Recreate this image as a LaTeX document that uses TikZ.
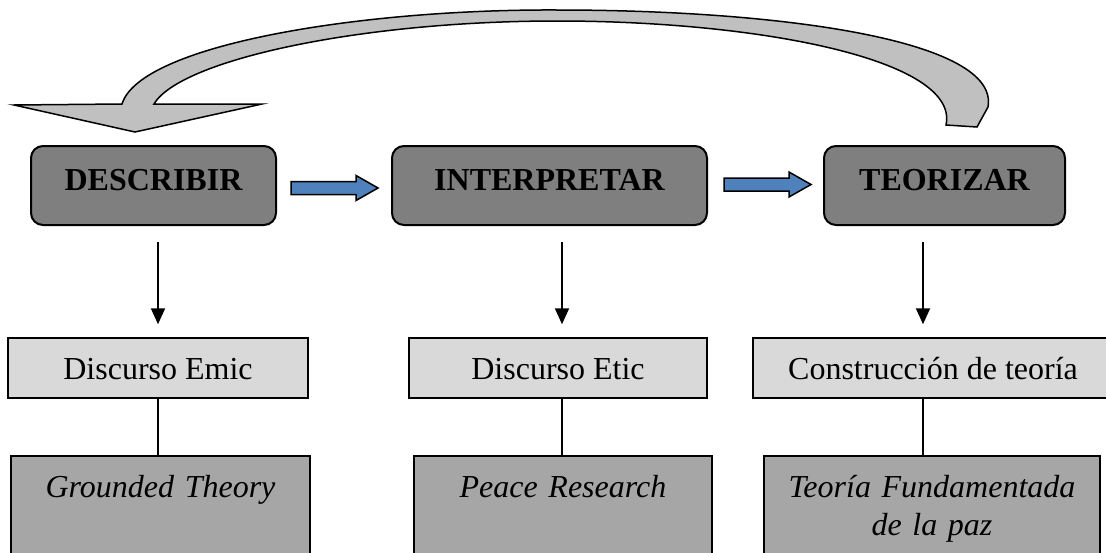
\documentclass[tikz,border=0pt]{standalone}
\usepackage{fontspec}
\setmainfont{Liberation Serif}
\usetikzlibrary{arrows.meta}

\definecolor{phasegray}{HTML}{7F7F7F}
\definecolor{discgray}{HTML}{D9D9D9}
\definecolor{theogray}{HTML}{A6A6A6}
\definecolor{flowblue}{HTML}{4F81BD}
\definecolor{loopgray}{HTML}{C0C0C0}

\begin{document}
\begin{tikzpicture}[x=1pt,y=-1pt,
    phase/.style={draw,line width=2pt,rounded corners=12pt,fill=phasegray,
      minimum height=79pt,text height=22pt,text depth=12pt,
      font=\fontsize{32}{38}\selectfont\bfseries},
    discourse/.style={draw,line width=1.5pt,fill=discgray,minimum height=60pt,
      text height=22pt,text depth=0pt,font=\fontsize{32}{38}\selectfont},
    theory/.style={draw,line width=1.5pt,fill=theogray,anchor=north,inner sep=0pt,
      align=center,text height=42pt,text depth=65pt,
      font=\fontsize{32}{38}\selectfont\itshape},
    downarrow/.style={line width=2pt,-{Triangle[length=16pt,width=14pt]},
      shorten <=16pt,shorten >=13pt},
    stem/.style={line width=1.5pt},
    flowarrow/.style={draw,line width=1.5pt,fill=flowblue},
    looparrow/.style={draw,line width=1.5pt,fill=loopgray}]
  \useasboundingbox (0,0) rectangle (1106,552);

  % phases
  \node[phase,minimum width=245pt] (describir) at (153.5,185.5) {DESCRIBIR};
  \node[phase,minimum width=315pt] (interpretar) at (549.5,185.5) {INTERPRETAR};
  \node[phase,minimum width=241pt] (teorizar) at (944.5,185.5) {TEORIZAR};

  % discourses
  \node[discourse,minimum width=300pt] (emic) at (158,368) {Discurso Emic};
  \node[discourse,minimum width=298pt] (etic) at (558,368) {Discurso Etic};
  \node[discourse,minimum width=360pt] (teoria) at (933,368) {Construcción de teoría};

  % theories
  \node[theory,text width=299pt] (grounded) at (160.5,455) {Grounded Theory};
  \node[theory,text width=298pt] (peace) at (563,455) {Peace Research};
  \node[theory,text width=336pt] (teofund) at (932,455) {Teoría Fundamentada\\de la paz};

  % block arrows between phases
  \foreach \from/\dx/\dy in {describir/14/-4,interpretar/16/-7.5}
  \draw[flowarrow] ([shift={(\dx,\dy)}]\from.east) -- ++(65,0) -- ++(0,-6)
    -- ++(22,12.5) -- ++(-22,12.5) -- ++(0,-6) -- ++(-65,0) -- cycle;

  % columns
  \foreach \phase/\disc/\theo/\dx in {describir/emic/grounded/0,interpretar/etic/peace/4,teorizar/teoria/teofund/-10}{
    \draw[downarrow] ([xshift=\dx pt]\disc.north |- \phase.south) -- ([xshift=\dx pt]\disc.north);
    \draw[stem] ([xshift=\dx pt]\disc.south) -- ([xshift=\dx pt]\disc.south |- \theo.north);
  }

  % loop back to describir
  \draw[looparrow] (122,104) .. controls (140,45) and (360,9) .. (557,10)
    .. controls (780,10) and (1000,40) .. (988,107)
    -- (977,127) -- (946,125)
    .. controls (960,60) and (760,21) .. (557,21)
    .. controls (360,21) and (180,60) .. (154,104)
    -- (262,104) -- (135,132) -- (14,105) -- cycle;
\end{tikzpicture}
\end{document}
